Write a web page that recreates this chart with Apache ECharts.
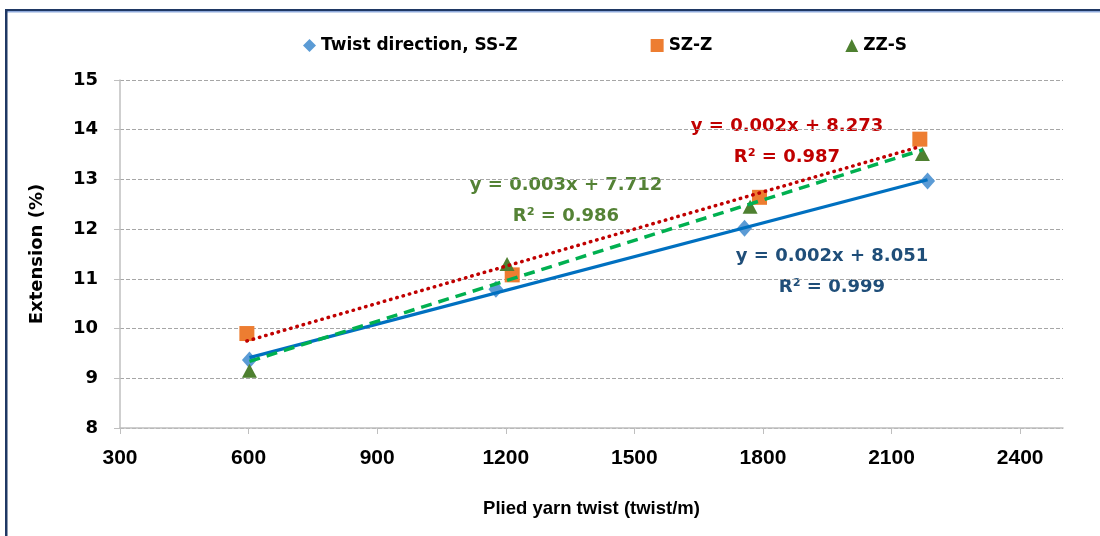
<!DOCTYPE html>
<html>
<head>
<meta charset="utf-8">
<script src="https://cdn.jsdelivr.net/npm/echarts@6/dist/echarts.min.js"></script>
<style>
  html, body { margin: 0; padding: 0; background: #ffffff; }
  #chart { width: 1100px; height: 536px; }
</style>
</head>
<body>
<div id="chart"></div>
<script>
// Plied yarn twist (twist/m) and extension (%) for each twist direction
const twistSSZ = [602, 1177, 1757, 2184];
const extSSZ   = [9.37, 10.79, 12.02, 12.97];
const twistSZZ = [596, 1215, 1792, 2166];
const extSZZ   = [9.90, 11.08, 12.64, 13.81];
const twistZZS = [602, 1203, 1770, 2172];
const extZZS   = [9.15, 11.30, 12.45, 13.51];

const seriesNames = ['Twist direction, SS-Z', 'SZ-Z', 'ZZ-S'];
const xTicks = [300, 600, 900, 1200, 1500, 1800, 2100, 2400];
const yTicks = [8, 9, 10, 11, 12, 13, 14, 15];

// Trendline equations as printed beside each fit
const eqSSZ = ['y = 0.002x + 8.051', 'R² = 0.999'];
const eqSZZ = ['y = 0.002x + 8.273', 'R² = 0.987'];
const eqZZS = ['y = 0.003x + 7.712', 'R² = 0.986'];

const BOLD = 'DejaVu Sans';

function pairs(xs, ys) { return xs.map((x, i) => [x, ys[i]]); }

// Least-squares line across the range of the measured twists
function fitLine(xs, ys) {
  const n = xs.length;
  const mx = xs.reduce((a, b) => a + b, 0) / n;
  const my = ys.reduce((a, b) => a + b, 0) / n;
  let sxy = 0, sxx = 0;
  for (let i = 0; i < n; i++) { sxy += (xs[i] - mx) * (ys[i] - my); sxx += (xs[i] - mx) ** 2; }
  const b = sxy / sxx, a = my - b * mx;
  const x0 = Math.min(...xs), x1 = Math.max(...xs);
  return [[x0, a + b * x0], [x1, a + b * x1]];
}

const chart = echarts.init(document.getElementById('chart'));

// Two centred lines of equation text, line centres at cy and cy + 31
function eqText(lines, cx, cy, color) {
  return lines.map((t, i) => ({
    type: 'text', x: cx, y: cy + i * 31, silent: true,
    style: { text: t, fill: color, font: 'bold 18px "' + BOLD + '"', align: 'center', verticalAlign: 'middle' }
  }));
}

const option = {
  animation: false,
  backgroundColor: '#ffffff',
  grid: { left: 120, right: 37, top: 80, bottom: 108 },
  legend: {
    data: seriesNames,
    left: 298, top: 32,
    itemGap: 133, itemWidth: 13, itemHeight: 13,
    textStyle: { fontFamily: BOLD, fontWeight: 'bold', fontSize: 17, color: '#000' }
  },
  xAxis: {
    type: 'value', min: 300, max: 2500, interval: 300,
    name: 'Plied yarn twist (twist/m)', nameLocation: 'middle', nameGap: 71,
    nameTextStyle: { fontFamily: 'Liberation Sans', fontWeight: 'bold', fontSize: 18.5, color: '#000' },
    axisLine: { show: true, lineStyle: { color: '#BFBFBF', width: 1.5 } },
    axisTick: { show: true, length: 6, lineStyle: { color: '#BFBFBF' }, customValues: xTicks },
    axisLabel: { customValues: xTicks, margin: 20, formatter: v => String(v),
      fontFamily: 'Liberation Sans', fontWeight: 'bold', fontSize: 21, color: '#000' },
    splitLine: { show: false }
  },
  yAxis: {
    type: 'value', min: 8, max: 15, interval: 1,
    name: 'Extension (%)', nameLocation: 'middle', nameGap: 74, nameRotate: 90,
    nameTextStyle: { fontFamily: BOLD, fontWeight: 'bold', fontSize: 18, color: '#000' },
    axisLine: { show: true, lineStyle: { color: '#BFBFBF', width: 1.5 } },
    axisTick: { show: true, length: 6, lineStyle: { color: '#BFBFBF' }, customValues: yTicks },
    axisLabel: { customValues: yTicks, margin: 22, fontFamily: BOLD, fontWeight: 'bold', fontSize: 18, color: '#000' },
    splitLine: { show: true, lineStyle: { color: '#A6A6A6', type: [4, 2], width: 1 } }
  },
  series: [
    { name: seriesNames[0], type: 'scatter', data: pairs(twistSSZ, extSSZ), symbol: 'diamond', symbolSize: [15, 17],
      itemStyle: { color: '#5B9BD5', opacity: 1 }, z: 2 },
    { name: seriesNames[1], type: 'scatter', data: pairs(twistSZZ, extSZZ), symbol: 'rect', symbolSize: 15,
      itemStyle: { color: '#ED7D31', opacity: 1 }, z: 2 },
    { name: seriesNames[2], type: 'scatter', data: pairs(twistZZS, extZZS), symbol: 'triangle', symbolSize: [15, 14],
      itemStyle: { color: '#4E8030', opacity: 1 }, z: 2 },
    { name: 'fit SS-Z', type: 'line', data: fitLine(twistSSZ, extSSZ), showSymbol: false, silent: true,
      lineStyle: { color: '#0070C0', width: 3.2 }, z: 4 },
    { name: 'fit SZ-Z', type: 'line', data: fitLine(twistSZZ, extSZZ), showSymbol: false, silent: true,
      lineStyle: { color: '#C00000', width: 3.5, type: [0.5, 6], cap: 'round' }, z: 4 },
    { name: 'fit ZZ-S', type: 'line', data: fitLine(twistZZS, extZZS), showSymbol: false, silent: true,
      lineStyle: { color: '#00B050', width: 3.5, type: [11, 7] }, z: 4 }
  ],
  graphic: [
    // frame: double rule along the top, single rule down the left
    { type: 'rect', shape: { x: 5, y: 9, width: 1095, height: 2 }, style: { fill: '#1F3864' }, silent: true },
    { type: 'rect', shape: { x: 5, y: 11, width: 1095, height: 1.5 }, style: { fill: '#8EA9DB' }, silent: true },
    { type: 'rect', shape: { x: 5, y: 9, width: 2.5, height: 527 }, style: { fill: '#1F3864' }, silent: true },
    ...eqText(eqSZZ, 787, 126, '#C00000'),
    ...eqText(eqZZS, 566, 185, '#548235'),
    ...eqText(eqSSZ, 832, 256, '#1F4E79')
  ]
};

chart.setOption(option);
</script>
</body>
</html>
